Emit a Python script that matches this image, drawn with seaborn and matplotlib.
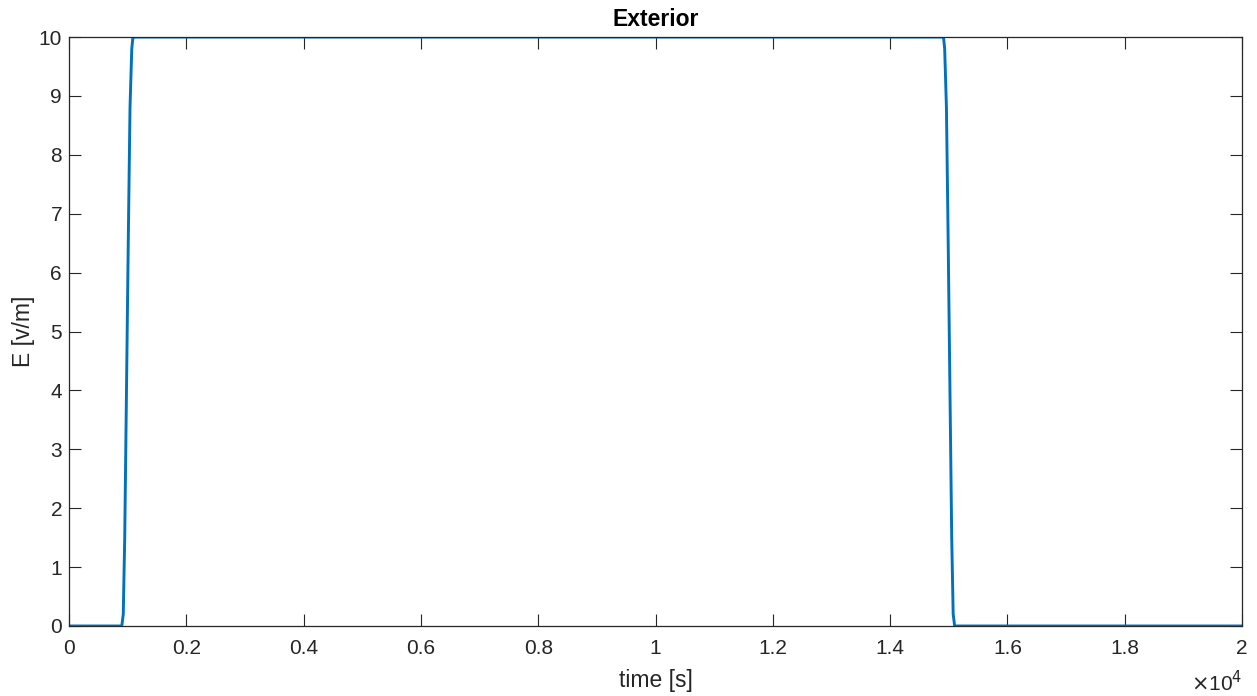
import matplotlib
matplotlib.use("Agg")
import matplotlib.pyplot as plt
import seaborn as sns
import pandas as pd

time_s = [0, 900, 925, 950, 980, 1010, 1040, 1070, 1090, 1110,
          14890, 14910, 14930, 14960, 14990, 15020, 15050, 15075, 15100, 20000]
E_vm = [0, 0, 0.2, 1.5, 4.0, 6.5, 8.8, 9.8, 10, 10,
        10, 10, 9.8, 8.8, 6.5, 4.0, 1.5, 0.2, 0, 0]
x_ticks = [0, 2000, 4000, 6000, 8000, 10000, 12000, 14000, 16000, 18000, 20000]
x_tick_labels = ["0", "0.2", "0.4", "0.6", "0.8", "1", "1.2", "1.4", "1.6", "1.8", "2"]
y_ticks = list(range(0, 11))

sns.set_style("white")
plt.rcParams['font.family'] = ['Liberation Sans', 'DejaVu Sans']

df = pd.DataFrame({"time": time_s, "E": E_vm})

fig = plt.figure(figsize=(12.57, 6.96), dpi=100)
ax = fig.add_axes([0.0549, 0.1006, 0.9332, 0.8462])
sns.lineplot(data=df, x="time", y="E", ax=ax, color="#0072BD", linewidth=2.1)

ax.set_xlim(0, 20000)
ax.set_ylim(0, 10)
ax.set_xticks(x_ticks)
ax.set_xticklabels(x_tick_labels)
ax.set_yticks(y_ticks)
ax.tick_params(direction="in", length=8.4, width=0.8, colors="#262626", labelsize=15,
               top=True, right=True, bottom=True, left=True)
ax.tick_params(axis="x", pad=9.5)
ax.tick_params(axis="y", pad=5)
for s in ax.spines.values():
    s.set_visible(True)
    s.set_color("#262626")
    s.set_linewidth(0.9)
ax.set_xlabel("time [s]", fontsize=16.5, color="#262626", labelpad=8)
ax.set_ylabel("E [v/m]", fontsize=16.5, color="#262626", labelpad=3)
ax.set_title("Exterior", fontsize=16.5, fontweight="bold", color="black", pad=7.6)
fig.text(0.988, 0.001, r"$\times$10$^4$", ha="right", va="bottom", fontsize=15, color="#262626")

fig.savefig("out.png", dpi=100)
